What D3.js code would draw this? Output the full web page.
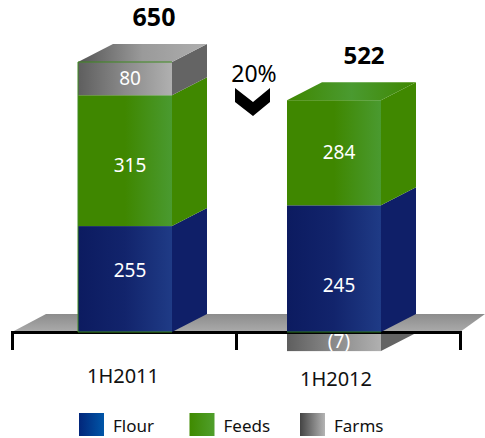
<!DOCTYPE html>
<html>
<head>
<meta charset="utf-8">
<script src="https://cdn.jsdelivr.net/npm/d3@7"></script>
<style>
    html, body { margin: 0; padding: 0; background: #fff; }
    svg { display: block; }
    text { font-family: "Noto Sans", sans-serif; }
</style>
</head>
<body>
<div id="chart"></div>
<script>

const categories = ["1H2011", "1H2012"];
const totals = [650, 522];

// printed values
const flourLabels = ["255", "245"];
const feedsLabels = ["315", "284"];
const farmsLabels = ["80", "(7)"];

// the source does not draw its segments to scale, so these are the drawn lengths
const flourDrawn = [255, 305];
const feedsDrawn = [315, 253];
const farmsDrawn = [80, -46];

const seriesNames = ["Flour", "Feeds", "Farms"];
const changeLabel = "20%";

const width = 485, height = 438;
const barWidth = 94, depthX = 35, depthY = 18;

const svg = d3.select("#chart").append("svg")
    .attr("width", width)
    .attr("height", height);

// Gradients
const defs = svg.append("defs");

function addGradient(id, stops, vertical) {
    const g = defs.append("linearGradient")
        .attr("id", id)
        .attr("x1", 0).attr("y1", 0)
        .attr("x2", vertical ? 0 : 1).attr("y2", vertical ? 1 : 0);
    stops.forEach((c, i) => {
        g.append("stop")
            .attr("offset", i / (stops.length - 1))
            .attr("stop-color", c);
    });
}

addGradient("front-Flour", ["#0c1b60", "#12246c", "#1f3b86"]);
addGradient("front-Feeds", ["#3f8700", "#3f8700", "#4a9a30"]);
addGradient("front-Farms", ["#5e5e5e", "#8a8a8a", "#b0b0b0"]);
addGradient("top-Farms", ["#555555", "#9a9a9a", "#aeaeae"]);
addGradient("top-Feeds", ["#3f8700", "#4a9a30", "#3f8700"]);
addGradient("legend-Flour", ["#02267a", "#0056a8"]);
addGradient("legend-Feeds", ["#3f8a00", "#509f2c"]);
addGradient("legend-Farms", ["#444444", "#b4b4b4"]);
addGradient("ground", ["#8c8c8c", "#ababab"], true);

const sideColor = {Flour: "#0f1f68", Feeds: "#408800", Farms: "#646464"};

// Scales
const x = d3.scalePoint().domain(categories).range([125, 334]);
const y = d3.scaleLinear().domain([0, 650]).range([332, 62]);
const axisX = d3.scaleLinear().domain([0, 2]).range([12, 460]);

// Stacked data
const rows = categories.map((c, i) => ({
    category: c,
    Flour: flourDrawn[i],
    Feeds: feedsDrawn[i],
    Farms: farmsDrawn[i]
}));

const stacked = d3.stack()
    .keys(seriesNames)
    .offset(d3.stackOffsetDiverging)(rows);

const segments = [];
stacked.forEach(s => {
    s.forEach((d, i) => {
        segments.push({
            key: s.key,
            index: i,
            left: x(categories[i]) - barWidth / 2,
            top: y(Math.max(d[0], d[1])),
            bottom: y(Math.min(d[0], d[1])),
            negative: d[1] < d[0] || d[0] < 0 || d[1] < 0
        });
    });
});

function drawSegment(g, d) {
    const right = d.left + barWidth;
    g.append("path")
        .attr("fill", sideColor[d.key])
        .attr("d", d3.line()([
            [right, d.top], [right + depthX, d.top - depthY],
            [right + depthX, d.bottom - depthY], [right, d.bottom]
        ]) + "Z");
    g.append("rect")
        .attr("x", d.left)
        .attr("y", d.top)
        .attr("width", barWidth)
        .attr("height", d.bottom - d.top)
        .attr("fill", `url(#front-${d.key})`);
}

// Negative part sits behind the floor
const below = svg.append("g");
segments.filter(d => d.negative).forEach(d => drawSegment(below, d));

// Floor
svg.append("path")
    .attr("fill", "url(#ground)")
    .attr("d", d3.line()([[12, 332], [46, 314], [485, 314], [460, 332]]) + "Z");

// Axis
const axis = svg.append("g")
    .attr("class", "axis x-axis")
    .attr("transform", "translate(0," + y(0) + ")")
    .call(d3.axisBottom(axisX)
        .tickValues([0, 1, 2])
        .tickFormat("")
        .tickSize(18));
axis.selectAll("path, line")
    .attr("stroke", "#000")
    .attr("stroke-width", 3);

// Bars
const bars = svg.append("g");
segments.filter(d => !d.negative).forEach(d => drawSegment(bars, d));

// Top face of each bar
categories.forEach((c, i) => {
    const seg = segments.filter(d => d.index === i && !d.negative);
    const topSeg = seg[seg.length - 1];
    bars.append("path")
        .attr("fill", `url(#top-${topSeg.key})`)
        .attr("d", d3.line()([
            [topSeg.left, topSeg.top],
            [topSeg.left + depthX, topSeg.top - depthY],
            [topSeg.left + barWidth + depthX, topSeg.top - depthY],
            [topSeg.left + barWidth, topSeg.top]
        ]) + "Z");
});

// Thin outline on the first bar (no right edge) and base line of the second
const first = segments.filter(d => d.index === 0 && !d.negative);
bars.append("path")
    .attr("fill", "none")
    .attr("stroke", "#3f8a20")
    .attr("stroke-width", 1)
    .attr("d", d3.line()([
        [first[0].left + barWidth, first[2].top],
        [first[0].left, first[2].top],
        [first[0].left, y(0)],
        [first[0].left + barWidth, y(0)]
    ]));
bars.append("line")
    .attr("x1", x(categories[1]) - barWidth / 2)
    .attr("x2", x(categories[1]) + barWidth / 2)
    .attr("y1", y(0))
    .attr("y2", y(0))
    .attr("stroke", "#2f7a20");

// Segment labels
const labelShift = {Flour: [-9, 17], Feeds: [5, 0], Farms: [0, 0]};
const labelText = {Flour: flourLabels, Feeds: feedsLabels, Farms: farmsLabels};

svg.append("g").selectAll("text")
    .data(segments)
    .enter().append("text")
    .attr("x", d => d.left + barWidth / 2 + 5)
    .attr("y", d => (d.top + d.bottom) / 2 + labelShift[d.key][d.index])
    .attr("dy", "0.35em")
    .attr("text-anchor", "middle")
    .attr("fill", "#fff")
    .attr("font-size", 19)
    .text(d => labelText[d.key][d.index]);

// Totals
const totalSize = [25, 24];
svg.append("g").selectAll("text")
    .data(categories)
    .enter().append("text")
    .attr("x", (d, i) => x(d) + 29 + (i === 0 ? 0 : 1))
    .attr("y", (d, i) => segments.filter(s => s.index === i && !s.negative).pop().top - depthY - 18)
    .attr("text-anchor", "middle")
    .attr("font-size", (d, i) => totalSize[i])
    .attr("font-weight", "bold")
    .attr("fill", "#000")
    .text((d, i) => totals[i]);

// Category labels
const categoryDy = [0, 3];
const categoryDx = [-2, 2];
svg.append("g").selectAll("text")
    .data(categories)
    .enter().append("text")
    .attr("x", (d, i) => x(d) + categoryDx[i])
    .attr("y", (d, i) => 383 + categoryDy[i])
    .attr("text-anchor", "middle")
    .attr("font-size", 20)
    .attr("fill", "#111")
    .text(d => d);

// Change marker
svg.append("text")
    .attr("x", 254)
    .attr("y", 82)
    .attr("text-anchor", "middle")
    .attr("font-size", 23)
    .attr("fill", "#000")
    .text(changeLabel);
svg.append("path")
    .attr("fill", "#000")
    .attr("d", "M235,88L253,102L270,88L270,102L253,116L235,102Z");

// Legend
const legendX = d3.scalePoint().domain(seriesNames).range([79, 300]);
const legend = svg.append("g").selectAll("g")
    .data(seriesNames)
    .enter().append("g")
    .attr("transform", d => "translate(" + legendX(d) + ",413)");
legend.append("rect")
    .attr("width", 25)
    .attr("height", 23)
    .attr("fill", d => `url(#legend-${d})`);
legend.append("text")
    .attr("x", 34)
    .attr("y", 19)
    .attr("font-size", 17)
    .attr("fill", "#111")
    .text(d => d);

</script>
</body>
</html>
